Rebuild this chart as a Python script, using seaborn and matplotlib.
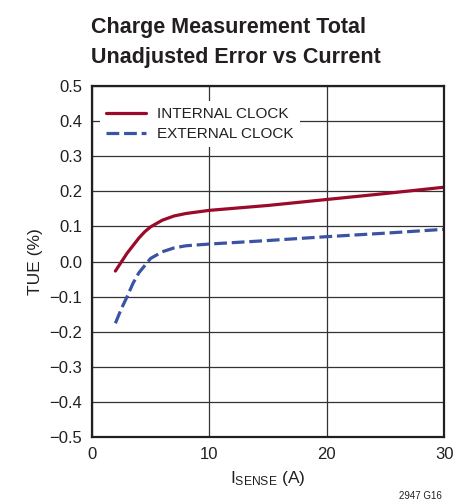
import pandas as pd
import matplotlib
matplotlib.use("Agg")
import matplotlib.pyplot as plt
from matplotlib.lines import Line2D
import seaborn as sns

# values
current_int = [2, 3, 4, 4.5, 5, 6, 7, 8, 10, 15, 20, 25, 30]
tue_int = [-0.027, 0.024, 0.067, 0.085, 0.099, 0.118, 0.130, 0.137, 0.146, 0.160, 0.177, 0.194, 0.212]
current_ext = [2, 2.5, 3, 3.5, 4, 5, 6, 7, 8, 10, 15, 20, 25, 30]
tue_ext = [-0.176, -0.135, -0.100, -0.062, -0.032, 0.009, 0.028, 0.039, 0.045, 0.050, 0.060, 0.071, 0.081, 0.092]
labels = ["INTERNAL CLOCK", "EXTERNAL CLOCK"]
colors = ["#9b0a2a", "#3a53a4"]

df = pd.concat([
    pd.DataFrame({"I": current_int, "TUE": tue_int, "clock": labels[0]}),
    pd.DataFrame({"I": current_ext, "TUE": tue_ext, "clock": labels[1]}),
])

sns.set_style("white")
plt.rcParams["font.family"] = ["Liberation Sans", "DejaVu Sans"]
txt = "#231f20"
dash = (4, 1.5)

fig = plt.figure(figsize=(4.55, 5.04), dpi=100)
ax = fig.add_axes([0.202, 0.133, 0.774, 0.696])

sns.lineplot(data=df, x="I", y="TUE", hue="clock", style="clock",
             palette=colors, dashes=[(None, None), dash],
             linewidth=2.3, ax=ax, legend=False, sort=False)

ax.set_xlim(0, 30)
ax.set_ylim(-0.5, 0.5)
ax.set_xticks([0, 10, 20, 30])
ax.set_yticks([i / 10 for i in range(-5, 6)])
ax.set_yticklabels([f"{v/10:.1f}".replace("-", "\u2212") for v in range(-5, 6)])
ax.tick_params(labelsize=12, colors=txt, length=0, pad=7)
ax.grid(True, color="#333333", linewidth=0.9)
for s in ax.spines.values():
    s.set_color(txt)
    s.set_linewidth(1.6)

ax.set_xlabel(r"$\mathregular{I_{SENSE}}$ (A)", fontsize=12.5, color=txt, labelpad=5)
ax.set_ylabel("TUE (%)", fontsize=12.5, color=txt)
ax.yaxis.set_label_coords(-0.14, 0.5)

handles = [Line2D([], [], color=colors[0], lw=2.3),
           Line2D([], [], color=colors[1], lw=2.3, dashes=dash)]
leg = ax.legend(handles, labels, loc="upper left", bbox_to_anchor=(0.024, 0.958),
                borderaxespad=0, frameon=True, fontsize=11, handlelength=2.6,
                handletextpad=0.7, labelspacing=0.4, borderpad=0.4, fancybox=False)
leg.get_frame().set_edgecolor("none")
leg.get_frame().set_facecolor("white")
leg.get_frame().set_alpha(1)
for t in leg.get_texts():
    t.set_color(txt)

fig.text(0.2, 0.9345, "Charge Measurement Total", fontsize=15.5,
         fontweight="bold", color=txt, va="baseline", ha="left")
fig.text(0.2, 0.875, "Unadjusted Error vs Current", fontsize=15.5,
         fontweight="bold", color=txt, va="baseline", ha="left")
fig.text(0.971, 0.005, "2947 G16", fontsize=7, color=txt, ha="right", va="bottom")

fig.savefig("out.png", dpi=100)
